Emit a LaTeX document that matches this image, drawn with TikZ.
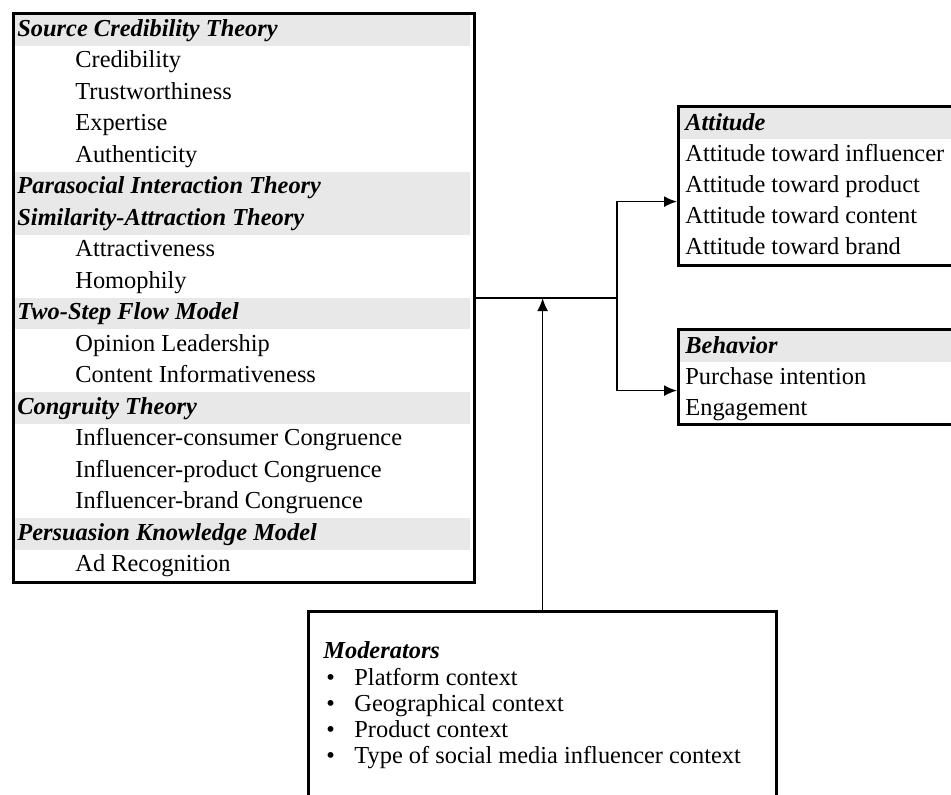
\documentclass[tikz,border=0pt]{standalone}
\usepackage{fontspec}
\setmainfont{Liberation Serif}
\usetikzlibrary{arrows.meta}
\definecolor{hdrgray}{HTML}{E8E8E8}
\begin{document}
\begin{tikzpicture}[>={Latex[length=6.5pt,width=5.5pt]}, x=.5pt, y=-.5pt,
  font=\fontsize{12.2}{14}\selectfont,
  box/.style={draw, line width=1.6pt, inner sep=0pt, anchor=north west},
  txt/.style={anchor=west, inner sep=0pt, text height=8.5pt, text depth=2.5pt},
  hdr/.style={txt, font=\fontsize{12.2}{14}\selectfont\bfseries\itshape},
  link/.style={line width=.8pt}]
\useasboundingbox (0,0) rectangle (951,794);
\foreach \i in {0,5,6,9,12,16}
  \fill[hdrgray] (15,{14.25+31.5*\i}) rectangle (470,{45.75+31.5*\i});
\node (theory) [box, minimum width=230.5pt, minimum height=284.5pt] at (12,12) {};
\foreach \i/\t in {0/Source Credibility Theory, 5/Parasocial Interaction Theory,
    6/Similarity-Attraction Theory, 9/Two-Step Flow Model, 12/Congruity Theory,
    16/Persuasion Knowledge Model}
  \node[hdr] (th\i) at (17,{30+31.5*\i}) {\t};
\foreach \i/\t in {1/Credibility, 2/Trustworthiness, 3/Expertise, 4/Authenticity,
    7/Attractiveness, 8/Homophily, 10/Opinion Leadership, 11/Content Informativeness,
    13/Influencer-consumer Congruence, 14/Influencer-product Congruence,
    15/Influencer-brand Congruence, 17/Ad Recognition}
  \node[txt] (ti\i) at (75,{30+31.5*\i}) {\t};

\fill[hdrgray] (680,108) rectangle (951,139);
\node (att) [box, minimum width=145pt, minimum height=79.5pt] at (677,105) {};
\node[hdr] (atth) at (685,124) {Attitude};
\foreach \i/\t in {1/influencer, 2/product, 3/content, 4/brand}
  \node[txt] (att\i) at (685,{124+31*\i}) {Attitude toward \t};

\fill[hdrgray] (680,331) rectangle (951,362);
\node (beh) [box, minimum width=145pt, minimum height=47.5pt] at (677,328) {};
\node[hdr] (behh) at (685,347) {Behavior};
\node[txt] (beh1) at (685,378) {Purchase intention};
\node[txt] (beh2) at (685,409) {Engagement};

\node (mod) [box, minimum width=234pt, minimum height=100pt] at (307,610) {};
\node[hdr] (modh) at (323,652) {Moderators};
\foreach \i/\t in {0/Platform context, 1/Geographical context, 2/Product context,
    3/Type of social media influencer context}
  {\node[txt] (bul\i) at (326,{679+26*\i}) {\textbullet};
   \node[txt] (mod\i) at (354,{679+26*\i}) {\t};}

\coordinate (split) at ([xshift=70.5pt]theory.east);
\draw[link] (theory.east) -- (split);
\draw[link,->] (split) |- ([yshift=-7.75pt]att.west);
\draw[link,->] (split) |- ([yshift=-6.75pt]beh.west);
\draw[link,->] (mod.north) -- (mod.north |- split);
\end{tikzpicture}
\end{document}
